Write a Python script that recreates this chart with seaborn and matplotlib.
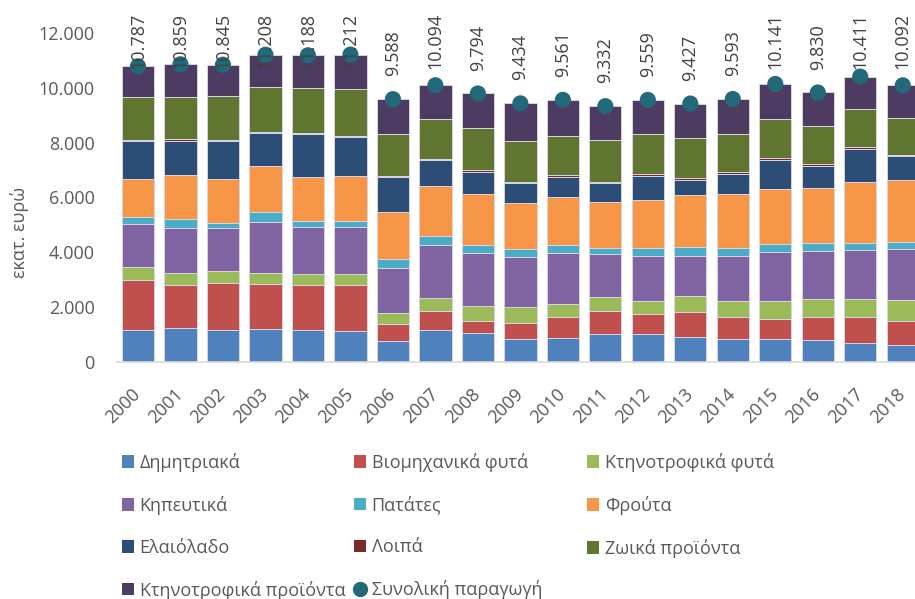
import numpy as np
import matplotlib
matplotlib.use("Agg")
import matplotlib.pyplot as plt
import seaborn as sns
from matplotlib.patches import Patch
from matplotlib.lines import Line2D

sns.set_style("white")
plt.rcParams["font.family"] = ["Open Sans", "DejaVu Sans"]

years = [str(y) for y in range(2000, 2019)]

# values in million euro
dimitriaka = [1156, 1229, 1156, 1192, 1156, 1144, 754, 1156, 1046, 852, 888, 1010, 1010, 912, 839, 839, 791, 706, 620]
viomichanika = [1849, 1569, 1715, 1643, 1642, 1654, 621, 717, 463, 584, 742, 839, 754, 913, 803, 730, 839, 924, 889]
ktinotrofika_fyta = [450, 462, 450, 413, 426, 426, 425, 451, 535, 583, 499, 511, 474, 572, 596, 657, 669, 681, 766]
kipeftika = [1569, 1618, 1557, 1861, 1703, 1703, 1618, 1934, 1922, 1801, 1837, 1569, 1631, 1472, 1631, 1789, 1752, 1764, 1849]
patates = [268, 329, 195, 378, 231, 231, 353, 328, 292, 316, 316, 219, 279, 328, 279, 279, 280, 268, 256]
frouta = [1399, 1618, 1594, 1654, 1582, 1618, 1691, 1825, 1861, 1679, 1728, 1704, 1777, 1898, 1995, 2008, 2007, 2214, 2262]
elaiolado = [1375, 1241, 1399, 1204, 1581, 1436, 1278, 949, 815, 706, 754, 669, 875, 547, 718, 1058, 815, 1217, 864]
loipa = [48, 61, 48, 61, 49, 48, 60, 61, 61, 48, 61, 48, 61, 61, 61, 73, 61, 73, 61]
zoika = [1558, 1545, 1594, 1630, 1642, 1704, 1509, 1448, 1545, 1485, 1411, 1521, 1472, 1472, 1387, 1436, 1387, 1387, 1338]
ktinotrofika_proionta = [1115, 1187, 1137, 1172, 1176, 1248, 1279, 1225, 1254, 1380, 1325, 1242, 1226, 1252, 1284, 1272, 1229, 1177, 1187]
synoliki = [10787, 10859, 10845, 11208, 11188, 11212, 9588, 10094, 9794, 9434, 9561, 9332, 9559, 9427, 9593, 10141, 9830, 10411, 10092]

series = [
    ("Δημητριακά", dimitriaka, "#4F81BD"),
    ("Βιομηχανικά φυτά", viomichanika, "#C0504D"),
    ("Κτηνοτροφικά φυτά", ktinotrofika_fyta, "#9BBB59"),
    ("Κηπευτικά", kipeftika, "#8064A2"),
    ("Πατάτες", patates, "#4BACC6"),
    ("Φρούτα", frouta, "#F79646"),
    ("Ελαιόλαδο", elaiolado, "#2C4D75"),
    ("Λοιπά", loipa, "#772C2A"),
    ("Ζωικά προϊόντα", zoika, "#5F7530"),
    ("Κτηνοτροφικά προϊόντα", ktinotrofika_proionta, "#4D3B62"),
]
total_color = "#22697A"

W, H = 915, 599
fig = plt.figure(figsize=(W / 100, H / 100), dpi=100)
ax = fig.add_axes([116.75 / W, (H - 362) / H, (924 - 116.75) / W, (362 - 33) / H])

bottom = np.zeros(len(years))
for name, vals, col in series:
    sns.barplot(x=years, y=vals, bottom=bottom, color=col, saturation=1,
                width=0.76, edgecolor="#D8D4E2", linewidth=0.7, ax=ax, zorder=2)
    bottom = bottom + np.array(vals)

xpos = np.arange(len(years))
sns.scatterplot(x=xpos, y=synoliki, color=total_color, s=135, edgecolor="none",
                ax=ax, zorder=5, legend=False)

labels = []
for xi, v in zip(xpos, synoliki):
    t = ax.annotate(f"{v:,}".replace(",", "."), (xi, v), xytext=(0, 16.5),
                    textcoords="offset points", rotation=90, ha="center", va="bottom",
                    fontsize=13, color="#404040", zorder=6, annotation_clip=False)
    labels.append(t)

ax.set_xlim(-0.5, len(years) - 0.5)
ax.set_ylim(0, 12000)
ax.set_yticks(range(0, 12001, 2000))
ax.set_yticklabels([f"{v:,}".replace(",", ".") for v in range(0, 12001, 2000)])
ax.tick_params(axis="y", length=0, pad=16, labelsize=13, labelcolor="#595959")
ax.tick_params(axis="x", length=0, pad=21, labelsize=13, labelcolor="#595959")
for lab in ax.get_xticklabels():
    lab.set_rotation(45)
    lab.set_ha("right")
    lab.set_va("center")
    lab.set_rotation_mode("anchor")
ax.set_xlabel("")
ax.set_ylabel("")
for s in ["top", "right", "left"]:
    ax.spines[s].set_visible(False)
ax.spines["bottom"].set_color("#D9D9D9")
ax.spines["bottom"].set_linewidth(1.2)
ax.grid(False)

fig.text(20 / W, (H - 232) / H, "εκατ. ευρώ", rotation=90, ha="center", va="center",
         fontsize=13, color="#595959")

# keep the total labels inside the top of the figure
fig.canvas.draw()
r = fig.canvas.get_renderer()
top_limit = H - 13
for t in labels:
    bb = t.get_window_extent(r)
    if bb.y1 > top_limit:
        dx, dy = t.xyann
        t.xyann = (dx, dy - (bb.y1 - top_limit) * 72 / 100)

# legend in three columns, row-major like the original
handles = [Patch(facecolor=c, edgecolor="none") for _, _, c in series]
handles.append(Line2D([], [], marker="o", ls="", color=total_color, markersize=10))
names = [n for n, _, _ in series] + ["Συνολική παραγωγή"]
col_x = [122, 354, 587]
for ci in range(3):
    idx = list(range(ci, len(names), 3))
    fig.legend([handles[i] for i in idx], [names[i] for i in idx],
               loc="upper left", bbox_to_anchor=(col_x[ci] / W, (H - 453) / H),
               frameon=False, fontsize=13, labelcolor="#595959",
               handlelength=0.68, handleheight=0.68, handletextpad=0.3,
               labelspacing=1.32, borderpad=0, borderaxespad=0)

fig.savefig("out.png", dpi=100)
